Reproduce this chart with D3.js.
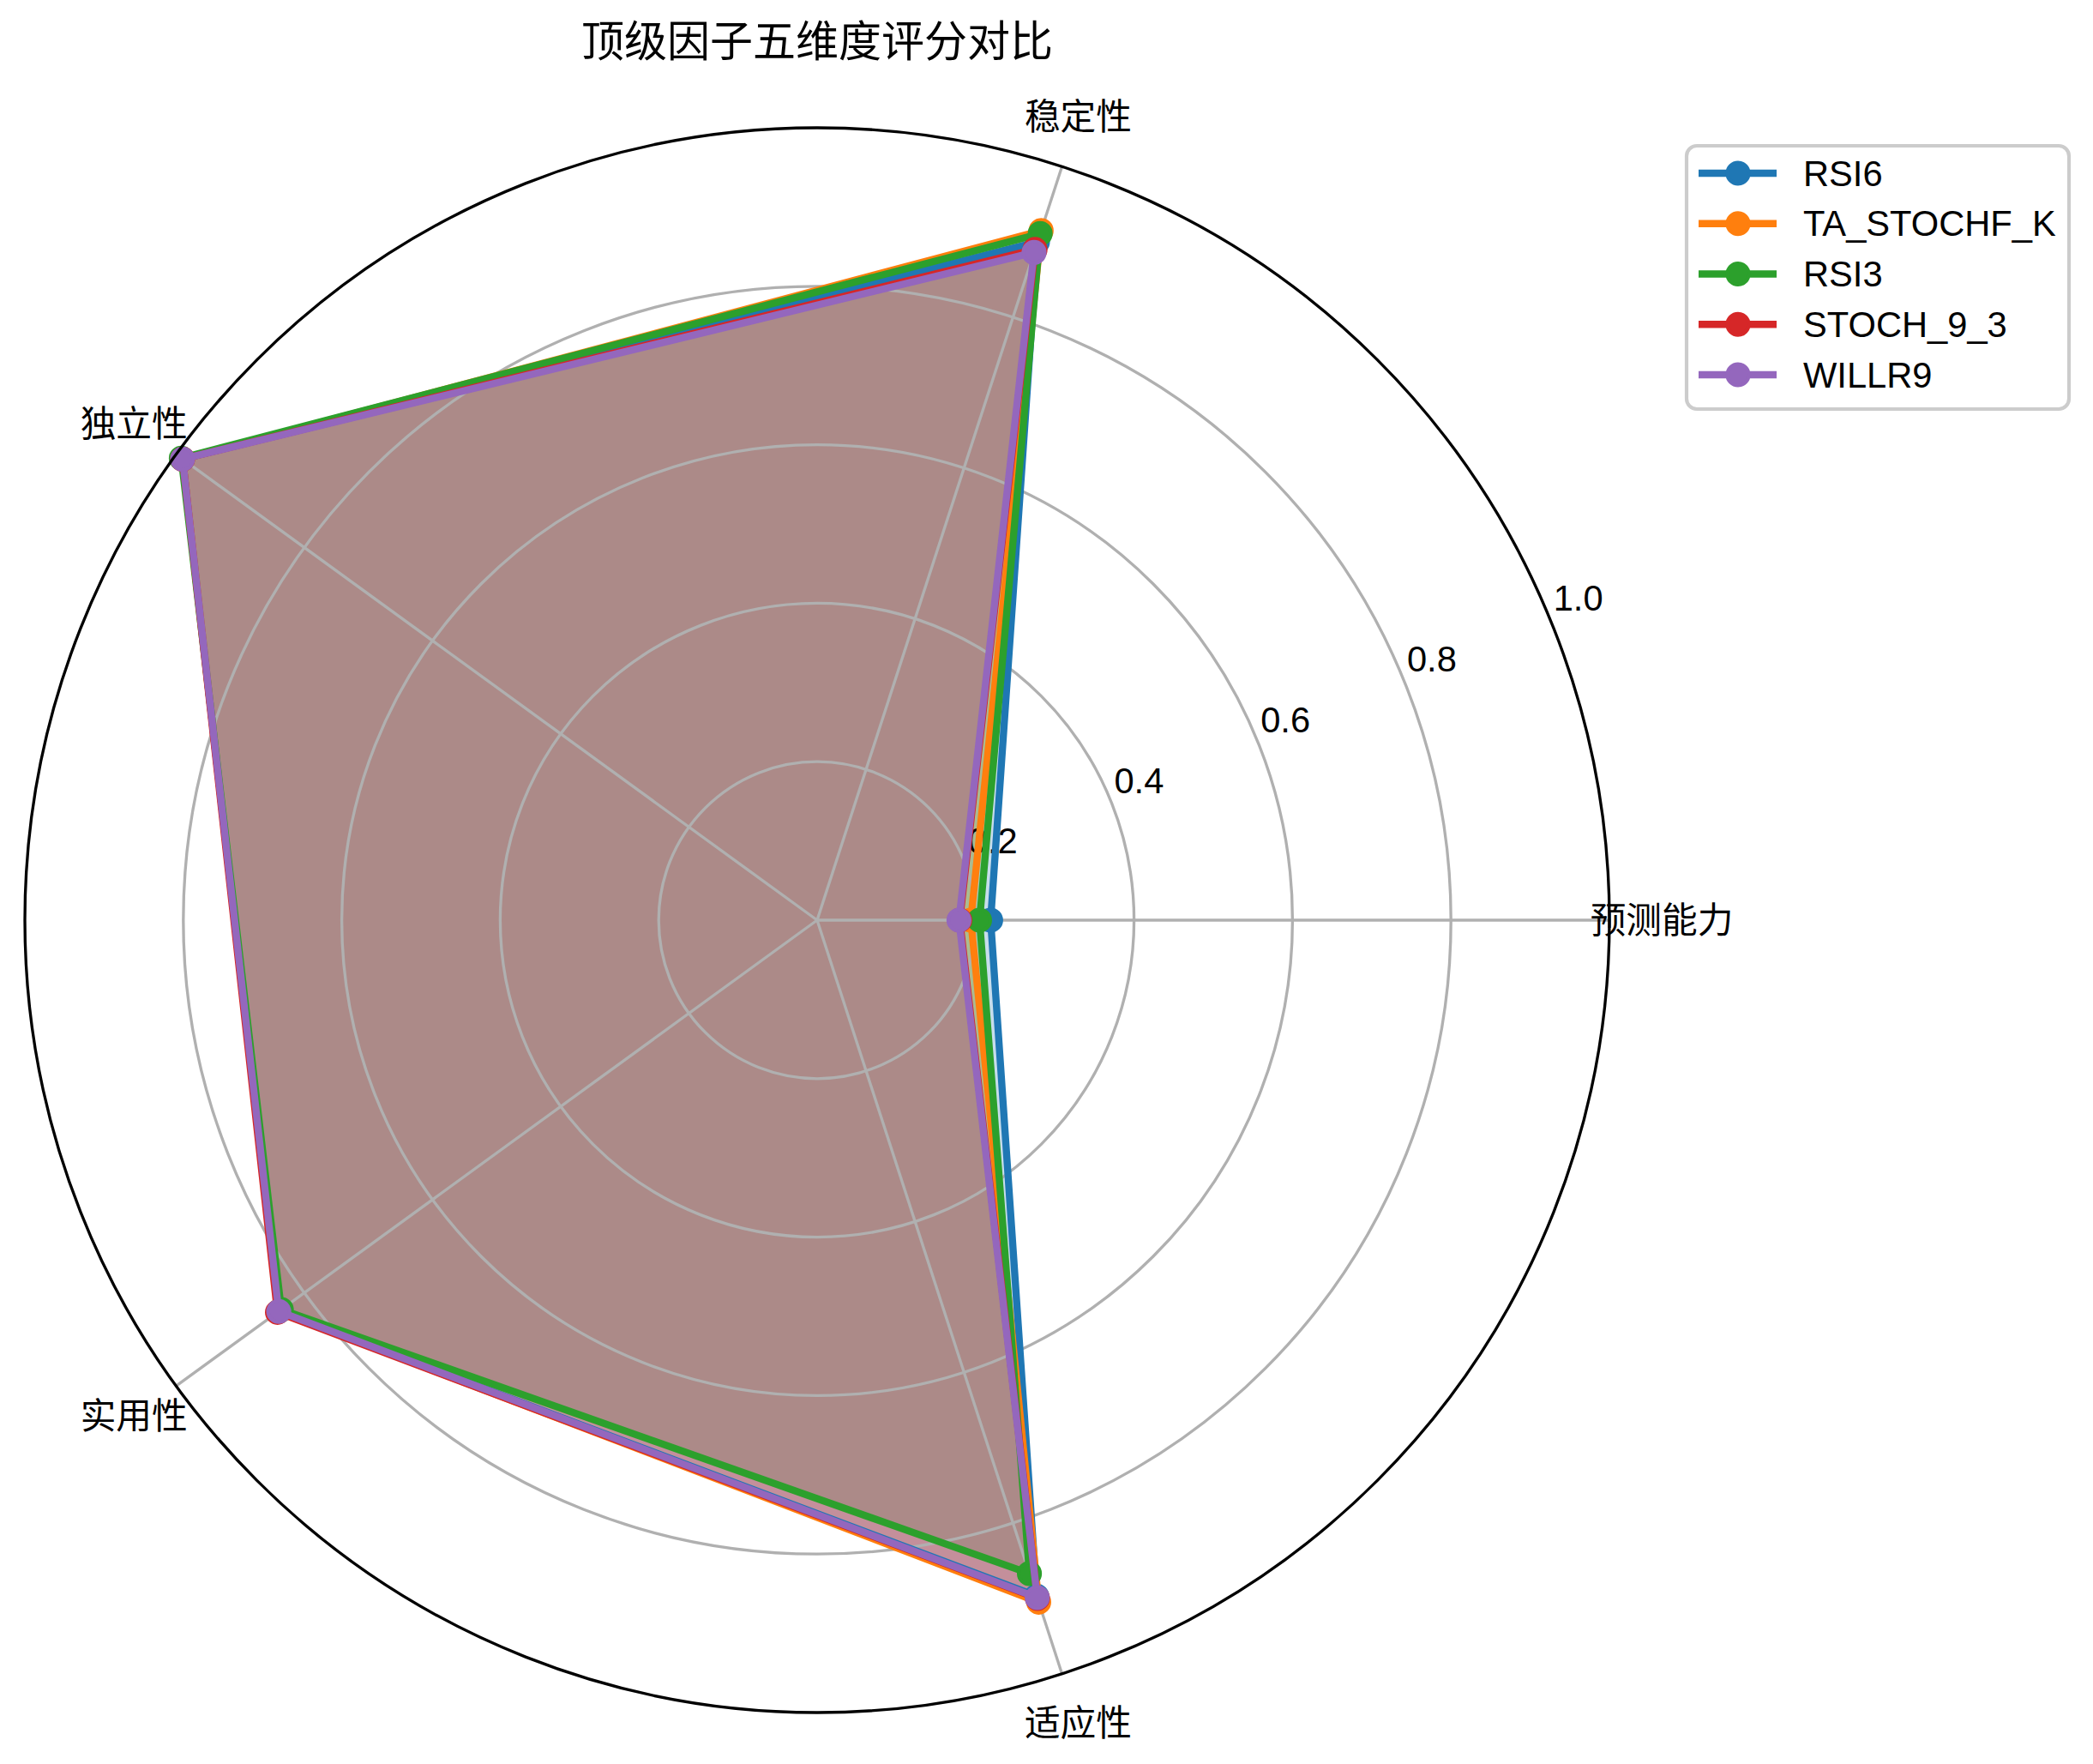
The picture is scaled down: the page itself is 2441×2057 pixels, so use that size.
<!DOCTYPE html>
<html>
<head>
<meta charset="utf-8">
<script src="https://cdn.jsdelivr.net/npm/d3@7"></script>
<style>
  html, body { margin: 0; padding: 0; background: #ffffff; }
  svg { display: block; }
  text { font-family: "Liberation Sans", Arial, "Noto Sans CJK SC", sans-serif; }
</style>
</head>
<body>
<svg id="chart" width="2441" height="2057"></svg>
<script>
// ---------------- data ----------------
const title = "顶级因子五维度评分对比";
const dimensions = ["预测能力", "稳定性", "独立性", "实用性", "适应性"];
const seriesNames = ["RSI6", "TA_STOCHF_K", "RSI3", "STOCH_9_3", "WILLR9"];
const seriesColors = ["#1f77b4", "#ff7f0e", "#2ca02c", "#d62728", "#9467bd"];
const valuesRSI6 = [0.219, 0.900, 0.990, 0.840, 0.897];
const valuesTA_STOCHF_K = [0.194, 0.915, 0.990, 0.840, 0.905];
const valuesRSI3 = [0.205, 0.911, 0.992, 0.836, 0.867];
const valuesSTOCH_9_3 = [0.180, 0.890, 0.990, 0.842, 0.900];
const valuesWILLR9 = [0.179, 0.886, 0.990, 0.840, 0.899];
const radialTicks = [0.2, 0.4, 0.6, 0.8, 1.0];
const radialTickLabels = ["0.2", "0.4", "0.6", "0.8", "1.0"];

const seriesValues = [valuesRSI6, valuesTA_STOCHF_K, valuesRSI3, valuesSTOCH_9_3, valuesWILLR9];

// ---------------- layout ----------------
const cx = 953, cy = 1073, R = 924;
const pt = 300 / 72; // px per point
const svg = d3.select("#chart");
const g = svg.append("g").attr("transform", `translate(${cx},${cy})`);

const r = d3.scaleLinear().domain([0, 1]).range([0, R]);
// matplotlib theta (ccw from east) -> d3 radial angle (cw from north)
const theta = d3.scaleLinear().domain([0, dimensions.length]).range([0, 2 * Math.PI]);
const toD3Angle = i => Math.PI / 2 - theta(i);
const px = (i, v) => r(v) * Math.cos(theta(i));
const py = (i, v) => -r(v) * Math.sin(theta(i));

const radialLine = d3.lineRadial()
  .angle((d, i) => toD3Angle(i))
  .radius(d => r(d))
  .curve(d3.curveLinearClosed);

// ---- fills (lowest layer) ----
seriesValues.forEach((vals, k) => {
  g.append("path")
    .attr("d", radialLine(vals))
    .attr("fill", seriesColors[k])
    .attr("fill-opacity", 0.25)
    .attr("stroke", "none");
});

// ---- grid ----
const gridColor = "#b0b0b0";
radialTicks.slice(0, -1).forEach(t => {
  g.append("circle").attr("r", r(t)).attr("fill", "none")
    .attr("stroke", gridColor).attr("stroke-width", 0.8 * pt);
});
dimensions.forEach((d, i) => {
  g.append("line")
    .attr("x1", 0).attr("y1", 0)
    .attr("x2", px(i, 1)).attr("y2", py(i, 1))
    .attr("stroke", gridColor).attr("stroke-width", 0.8 * pt);
});

// ---- radial tick labels at 22.5 deg ----
const labAng = 22.5 * Math.PI / 180;
radialTicks.forEach((t, j) => {
  g.append("text")
    .attr("x", r(t) * Math.cos(labAng) + 5)
    .attr("y", -r(t) * Math.sin(labAng) - 7)
    .attr("font-size", 10 * pt)
    .attr("fill", "#000")
    .text(radialTickLabels[j]);
});

// ---- angular labels ----
dimensions.forEach((d, i) => {
  g.append("text")
    .attr("x", 985 * Math.cos(theta(i)))
    .attr("y", -985 * Math.sin(theta(i)))
    .attr("text-anchor", "middle")
    .attr("dominant-baseline", "central")
    .attr("font-size", 10 * pt)
    .attr("font-family", "'Noto Sans CJK SC', sans-serif")
    .attr("fill", "#000")
    .text(d);
});

// ---- lines + markers ----
seriesValues.forEach((vals, k) => {
  const c = seriesColors[k];
  g.append("path")
    .attr("d", radialLine(vals))
    .attr("fill", "none")
    .attr("stroke", c)
    .attr("stroke-width", 2 * pt)
    .attr("stroke-linejoin", "round");
  g.selectAll(null).data(vals).enter().append("circle")
    .attr("cx", (v, i) => px(i, v))
    .attr("cy", (v, i) => py(i, v))
    .attr("r", 3 * pt)
    .attr("fill", c)
    .attr("stroke", c)
    .attr("stroke-width", 1 * pt);
});

// ---- outer spine ----
g.append("circle").attr("r", r(1)).attr("fill", "none")
  .attr("stroke", "#000").attr("stroke-width", 0.8 * pt);

// ---- title ----
svg.append("text")
  .attr("x", cx).attr("y", 49)
  .attr("text-anchor", "middle")
  .attr("dominant-baseline", "central")
  .attr("font-size", 12 * pt)
  .attr("font-family", "'Noto Sans CJK SC', sans-serif")
  .attr("fill", "#000")
  .text(title);

// ---- legend ----
const lg = svg.append("g");
lg.append("rect")
  .attr("x", 1967).attr("y", 170)
  .attr("width", 446).attr("height", 307)
  .attr("rx", 12).attr("ry", 12)
  .attr("fill", "#ffffff").attr("fill-opacity", 0.8)
  .attr("stroke", "#cccccc").attr("stroke-width", 1 * pt);
const rowY = d3.scaleLinear().domain([0, 1]).range([202, 260.75]);
seriesNames.forEach((name, k) => {
  const y = rowY(k);
  const c = seriesColors[k];
  lg.append("line").attr("x1", 1981).attr("x2", 2072).attr("y1", y).attr("y2", y)
    .attr("stroke", c).attr("stroke-width", 2 * pt);
  lg.append("circle").attr("cx", 2027).attr("cy", y).attr("r", 3 * pt)
    .attr("fill", c).attr("stroke", c).attr("stroke-width", 1 * pt);
  lg.append("text").attr("x", 2103).attr("y", y)
    .attr("dominant-baseline", "central")
    .attr("font-size", 10 * pt)
    .attr("fill", "#000")
    .text(name);
});
</script>
</body>
</html>
